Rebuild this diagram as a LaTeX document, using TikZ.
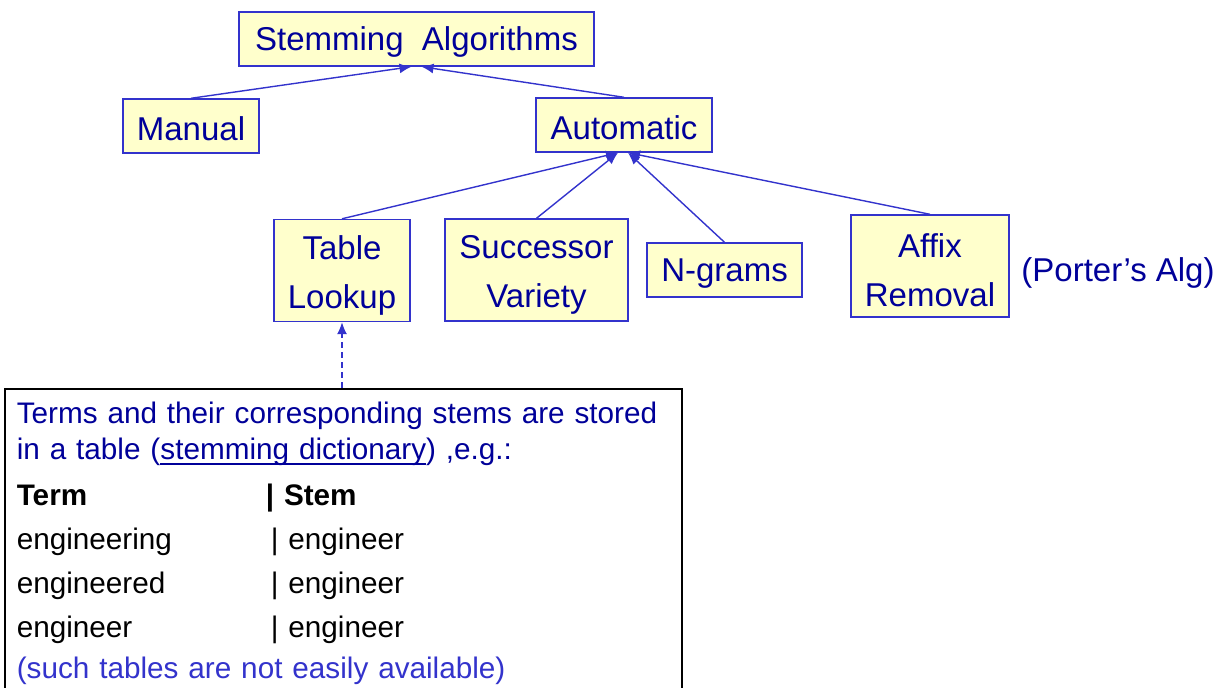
\documentclass[tikz,border=0pt]{standalone}
\usepackage{fontspec}
\setmainfont{Liberation Sans}
\usetikzlibrary{arrows.meta}
\definecolor{navy}{RGB}{0,0,153}
\definecolor{edge}{RGB}{51,51,204}
\definecolor{pale}{RGB}{255,255,204}
\newcommand{\row}[2]{\makebox[127pt][l]{#1}| #2}
\newcommand{\dictul}[1]{\setbox0=\hbox{#1}\rlap{\rule[-2.6pt]{\wd0}{0.9pt}}\box0}

\begin{document}
\begin{tikzpicture}[x=0.5pt,y=-0.5pt,
    algbox/.style={draw=edge,fill=pale,text=navy,line width=0.7pt,
      font=\fontsize{16.5}{24.5}\selectfont,align=center,inner sep=0pt},
    onebox/.style={algbox,text height=15pt,minimum height=27pt},
    twobox/.style={algbox,text height=41pt,minimum height=51pt},
    link/.style={draw=edge,line width=0.7pt,-{Latex[length=6pt,width=5pt]}},
    notebox/.style={draw=black,fill=white,line width=0.8pt,anchor=north west,
      align=left,text width=326.5pt,inner xsep=6pt,inner ysep=6.5pt,
      font=\fontsize{14.85}{18}\selectfont}]
  \useasboundingbox (0,0) rectangle (1224,688);

  \node[onebox,minimum width=177.5pt] (stem) at (416.5,39) {Stemming\ \ Algorithms};
  \node[onebox,minimum width=68pt] (manual) at (191,126) {Manual};
  \node[onebox,minimum width=88pt] (auto) at (624,125) {Automatic};

  \node[twobox,minimum width=68pt] (table) at (342,270.5) {Table\\Lookup};
  \node[twobox,minimum width=91.5pt] (succ) at (536.5,270) {Successor\\Variety};
  \node[onebox,minimum width=77.5pt] (ngrams) at (724.5,270) {N-grams};
  \node[twobox,minimum width=79pt] (affix) at (930,266) {Affix\\Removal};
  \node[text=navy,font=\fontsize{16.5}{20}\selectfont,inner sep=0pt] (porter) at (1118,273) {(Porter’s Alg)};

  \draw[link] (manual.north) -- ([xshift=-2.5pt]stem.south);
  \draw[link] (auto.north) -- ([xshift=2.5pt]stem.south);
  \draw[link] (table.north) -- ([xshift=-3pt]auto.south);
  \draw[link] (succ.north) -- ([xshift=-3pt]auto.south);
  \draw[link] (ngrams.north) -- ([xshift=2pt]auto.south);
  \draw[link] (affix.north) -- ([xshift=2pt]auto.south);

  \node[notebox] (note) at (4,388) {%
    {\color{navy}Terms and their corresponding stems are stored}\\
    {\color{navy}in a table (\dictul{stemming dictionary}) ,e.g.:}\\[5pt]
    \textbf{\makebox[124.5pt][l]{Term}| Stem}\\[4pt]
    \row{engineering}{engineer}\\[4pt]
    \row{engineered}{engineer}\\[4pt]
    \row{engineer}{engineer}\\[2.5pt]
    {\color{edge}(such tables are not easily available)}};

  \draw[link,dashed,dash pattern=on 3pt off 2pt] (table.south |- note.north) -- (table.south);
\end{tikzpicture}
\end{document}
